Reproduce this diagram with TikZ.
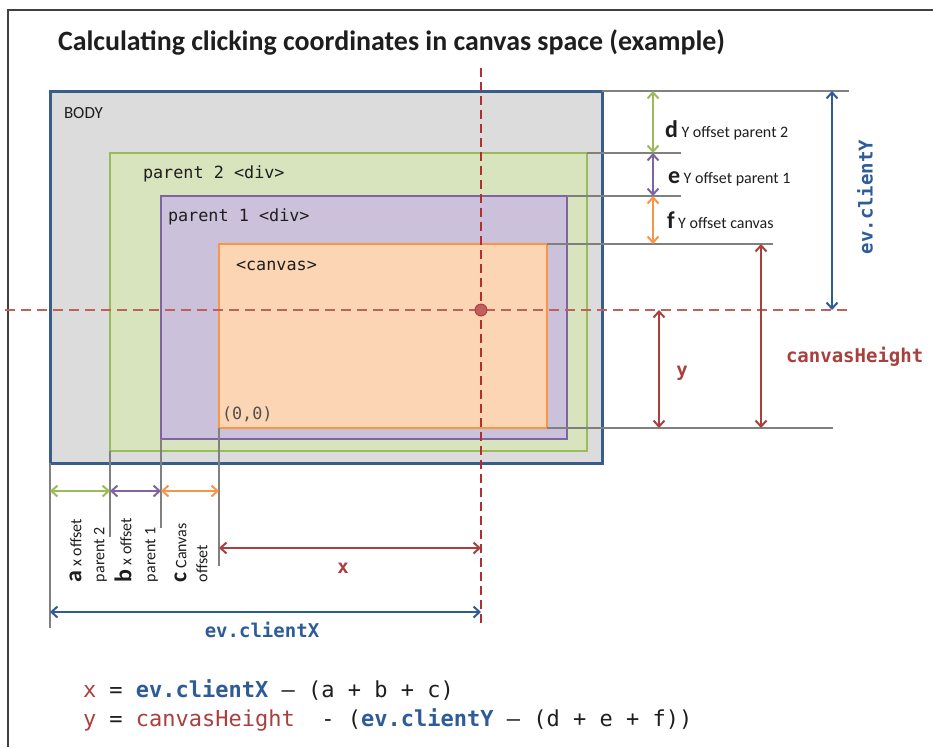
\documentclass[tikz,border=0pt]{standalone}
\usepackage{fontspec}
\setmainfont{Carlito}
\newfontfamily\monofam{DejaVu Sans Mono}
\usetikzlibrary{arrows.meta}
\definecolor{bodyline}{HTML}{385D8A}
\definecolor{bodyfill}{HTML}{DCDCDC}
\definecolor{gline}{HTML}{9BBB59}
\definecolor{gfill}{HTML}{D7E4BD}
\definecolor{pline}{HTML}{8064A2}
\definecolor{pfill}{HTML}{CCC1DA}
\definecolor{oline}{HTML}{F79646}
\definecolor{ofill}{HTML}{FCD5B5}
\definecolor{dred}{HTML}{A9403D}
\definecolor{hdash}{HTML}{C0605D}
\definecolor{vdash}{HTML}{B03030}
\definecolor{cblue}{HTML}{2E5C96}
\definecolor{extgray}{HTML}{808080}
\definecolor{framec}{HTML}{404040}
\definecolor{txt}{HTML}{1E1E1E}
\definecolor{origc}{HTML}{505050}
\begin{document}
\begin{tikzpicture}[x=1pt,y=-1pt,
  every node/.style={inner sep=0pt, outer sep=0pt, text=txt},
  boxtxt/.style={font=\fontsize{16.8}{18}\selectfont\monofam},
  smalltxt/.style={font=\fontsize{16}{17}\selectfont},
  labmono/.style={font=\fontsize{19}{21}\selectfont\monofam\bfseries},
  formula/.style={font=\fontsize{22}{24}\selectfont\monofam, anchor=base west},
  extline/.style={draw=extgray, line width=1.5pt},
  dimarrow/.style={line width=2pt, {Straight Barb[length=6pt,width=11pt]}-{Straight Barb[length=6pt,width=11pt]}},
  boxbody/.style={draw=bodyline, fill=bodyfill, line width=3pt},
  boxgreen/.style={draw=gline, fill=gfill, line width=2.5pt},
  boxpurple/.style={draw=pline, fill=pfill, line width=2.5pt},
  boxorange/.style={draw=oline, fill=ofill, line width=2.5pt}
]
\newcommand{\bigletter}{\fontsize{24}{24}\selectfont\bfseries}
\useasboundingbox (0,0) rectangle (933,747);
\fill[white] (0,0) rectangle (933,747);
% frame
\draw[framec, line width=2pt] (933,10) -- (8,10) -- (8,747);
% title
\node[anchor=base west] (title) at (58,50) {\resizebox{667pt}{\height}{\fontsize{28}{30}\selectfont\bfseries Calculating clicking coordinates in canvas space (example)}};
% boxes
\path[boxbody] (50,91) rectangle (602,463);
\path[boxgreen] (110,153) rectangle (587,451);
\path[boxpurple] (161,196) rectangle (567,439);
\path[boxorange] (219,244) rectangle (547,428);
% box labels
\node[anchor=west, font=\fontsize{17}{19}\selectfont] (bodylab) at (64,113) {BODY};
\node[boxtxt, anchor=west] (p2lab) at (143,174) {parent 2 <div>};
\node[boxtxt, anchor=west] (p1lab) at (168,217) {parent 1 <div>};
\node[boxtxt, anchor=west] (cvlab) at (236,266) {<canvas>};
\node[boxtxt, anchor=west, text=origc] (orilab) at (222,414) {(0,0)};
% extension lines (right)
\coordinate (e1a) at (602,91);  \coordinate (e1b) at (849,91);
\coordinate (e2a) at (587,153); \coordinate (e2b) at (681,153);
\coordinate (e3a) at (567,196); \coordinate (e3b) at (681,196);
\coordinate (e4a) at (547,244); \coordinate (e4b) at (773,244);
\coordinate (e5a) at (547,428); \coordinate (e5b) at (833,428);
\draw[extline] (e1a) -- (e1b);
\draw[extline] (e2a) -- (e2b);
\draw[extline] (e3a) -- (e3b);
\draw[extline] (e4a) -- (e4b);
\draw[extline] (e5a) -- (e5b);
% extension lines (bottom)
\coordinate (v1a) at (50,463);  \coordinate (v1b) at (50,628);
\coordinate (v2a) at (110,451); \coordinate (v2b) at (110,537);
\coordinate (v3a) at (161,439); \coordinate (v3b) at (161,528);
\coordinate (v4a) at (219,428); \coordinate (v4b) at (219,566);
\draw[extline] (v1a) -- (v1b);
\draw[extline] (v2a) -- (v2b);
\draw[extline] (v3a) -- (v3b);
\draw[extline] (v4a) -- (v4b);
% dashed cross-hair
\coordinate (vt) at (481,68); \coordinate (vb) at (481,625);
\coordinate (hl) at (5,310); \coordinate (hr) at (849,310);
\draw[hdash, line width=2pt, dash pattern=on 10pt off 6pt] (hl) -- (hr);
\draw[vdash, line width=1.5pt, dash pattern=on 9pt off 5pt] (vt) -- (vb);
\node[circle, fill=hdash, draw=vdash, line width=0.8pt, minimum size=12pt] (click) at (481,310) {};
% right dimension arrows
\coordinate (d1) at (653,91);  \coordinate (d2) at (653,153);
\coordinate (d3) at (653,196); \coordinate (d4) at (653,244);
\draw[dimarrow, gline] (d1) -- (d2);
\draw[dimarrow, pline] (d2) -- (d3);
\draw[dimarrow, oline] (d3) -- (d4);
\node[anchor=base west, smalltxt] (dlab) at (665,137) {{\bigletter d} Y offset parent 2};
\node[anchor=base west, smalltxt] (elab) at (668,183) {{\bigletter e} Y offset parent 1};
\node[anchor=base west, smalltxt] (flab) at (667,228) {{\bigletter f} Y offset canvas};
\coordinate (cy1) at (832,91); \coordinate (cy2) at (832,310);
\draw[dimarrow, cblue] (cy1) -- (cy2);
\node[labmono, text=cblue, rotate=90] (cylab) at (865,197) {ev.clientY};
\coordinate (ch1) at (761,244); \coordinate (ch2) at (761,428);
\draw[dimarrow, dred] (ch1) -- (ch2);
\node[labmono, text=dred, anchor=west] (chlab) at (786,357) {canvasHeight};
\coordinate (y1) at (659,310); \coordinate (y2) at (659,428);
\draw[dimarrow, dred] (y1) -- (y2);
\node[labmono, text=dred] (ylab) at (682,373) {y};
% bottom dimension arrows
\coordinate (a1) at (50,491); \coordinate (a2) at (110,491);
\coordinate (a3) at (161,491); \coordinate (a4) at (219,491);
\draw[dimarrow, gline] (a1) -- (a2);
\draw[dimarrow, pline] (a2) -- (a3);
\draw[dimarrow, oline] (a3) -- (a4);
\node[smalltxt, rotate=90, anchor=mid west] (alab1) at (79,582) {{\bigletter a} x offset};
\node[smalltxt, rotate=90, anchor=mid west] (alab2) at (102,582) {parent 2};
\node[smalltxt, rotate=90, anchor=mid west] (blab1) at (129,582) {{\bigletter b} x offset};
\node[smalltxt, rotate=90, anchor=mid west] (blab2) at (153,582) {parent 1};
\node[smalltxt, rotate=90, anchor=mid west] (clab1) at (184,582) {{\bigletter c} Canvas};
\node[smalltxt, rotate=90, anchor=mid west] (clab2) at (205,582) {offset};
\coordinate (x1) at (219,548); \coordinate (x2) at (481,548);
\draw[dimarrow, dred] (x1) -- (x2);
\node[labmono, text=dred] (xlab) at (343,568) {x};
\coordinate (cx1) at (50,612); \coordinate (cx2) at (481,612);
\draw[dimarrow, cblue] (cx1) -- (cx2);
\node[labmono, text=cblue] (cxlab) at (262,630) {ev.clientX};
% formulas
\node[formula] (f1) at (83,697) {\textcolor{dred}{x} = \textcolor{cblue}{\bfseries ev.clientX} – (a + b + c)};
\node[formula] (f2) at (83,726) {\textcolor{dred}{y} = \textcolor{dred}{canvasHeight}\ \ - (\textcolor{cblue}{\bfseries ev.clientY} – (d + e + f))};
\end{tikzpicture}
\end{document}
